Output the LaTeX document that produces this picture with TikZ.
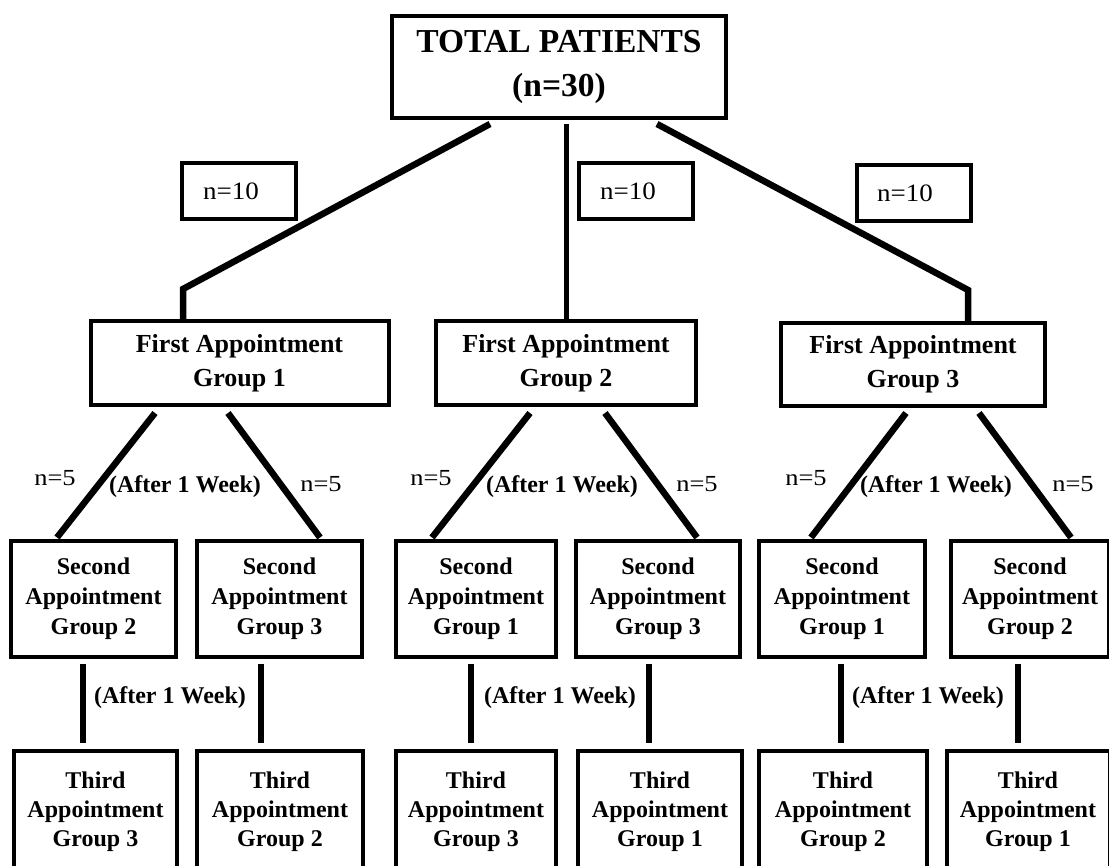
\documentclass[tikz,border=0pt]{standalone}
\usepackage{fontspec}
\setmainfont{Liberation Serif}
\usetikzlibrary{calc}
\begin{document}
\begin{tikzpicture}[x=1pt,y=-1pt,
  box/.style={draw,line width=4pt,inner sep=0pt,align=center,font=\bfseries},
  topbox/.style={box,font=\fontsize{33.5}{44}\selectfont\bfseries},
  firstbox/.style={box,font=\fontsize{26}{34}\selectfont\bfseries},
  secbox/.style={box,minimum height=116pt,font=\fontsize{24}{30}\selectfont\bfseries},
  thirdbox/.style={box,minimum height=122pt,font=\fontsize{24}{29}\selectfont\bfseries},
  nbox/.style={draw,line width=4pt,inner sep=0pt,minimum width=114pt,minimum height=56pt,font=\fontsize{25}{28}\selectfont},
  nlab/.style={inner sep=0pt,font=\fontsize{23}{26}\selectfont},
  wlab/.style={inner sep=0pt,font=\fontsize{24}{26}\selectfont\bfseries},
  conn/.style={line width=6.5pt}]
\useasboundingbox (0,0) rectangle (1109,866);
\fill[white] (0,0) rectangle (1109,866);

% top
\node[topbox,minimum width=334pt,minimum height=102pt] (top) at (559,67) {TOTAL PATIENTS\\(n=30)};

% n=10 boxes
\node[nbox] (n10a) at (239,191.5) {\scalebox{1.08}[1]{n=10}\kern16pt};
\node[nbox] (n10b) at (636,191.5) {\scalebox{1.08}[1]{n=10}\kern16pt};
\node[nbox] (n10c) at (914,193) {\scalebox{1.08}[1]{n=10}\kern18pt};

% first appointment
\node[firstbox,minimum width=298pt,minimum height=84pt] (fa1) at (239.5,363) {First Appointment\\Group 1};
\node[firstbox,minimum width=260pt,minimum height=84pt] (fa2) at (566,363) {First Appointment\\Group 2};
\node[firstbox,minimum width=264pt,minimum height=83pt] (fa3) at (913,364.5) {First Appointment\\Group 3};

% second appointment
\node[secbox,minimum width=165pt] (sa1) at (93.5,598.5) {Second\\Appointment\\Group 2};
\node[secbox,minimum width=165pt] (sa2) at (279.5,598.5) {Second\\Appointment\\Group 3};
\node[secbox,minimum width=160pt] (sa3) at (476,598.5) {Second\\Appointment\\Group 1};
\node[secbox,minimum width=164pt] (sa4) at (658,598.5) {Second\\Appointment\\Group 3};
\node[secbox,minimum width=166pt] (sa5) at (842,598.5) {Second\\Appointment\\Group 1};
\node[secbox,minimum width=158pt] (sa6) at (1030,598.5) {Second\\Appointment\\Group 2};

% third appointment
\node[thirdbox,minimum width=163pt] (ta1) at (95.5,812) {Third\\Appointment\\Group 3};
\node[thirdbox,minimum width=166pt] (ta2) at (280,812) {Third\\Appointment\\Group 2};
\node[thirdbox,minimum width=160pt] (ta3) at (476,812) {Third\\Appointment\\Group 3};
\node[thirdbox,minimum width=164pt] (ta4) at (660,812) {Third\\Appointment\\Group 1};
\node[thirdbox,minimum width=168pt] (ta5) at (843,812) {Third\\Appointment\\Group 2};
\node[thirdbox,minimum width=163pt] (ta6) at (1028,812) {Third\\Appointment\\Group 1};

% connectors from top
\draw[conn] ([xshift=-69pt,yshift=-4pt]top.south) -- ([xshift=-56.5pt,yshift=30pt]fa1.north) -- ([xshift=-56.5pt,yshift=-1pt]fa1.north);
\draw[conn,line width=5pt] ([xshift=7pt,yshift=-4pt]top.south) -- ([yshift=-1pt]fa2.north);
\draw[conn] ([xshift=98pt,yshift=-4pt]top.south) -- ([xshift=55pt,yshift=31pt]fa3.north) -- ([xshift=55pt,yshift=-1pt]fa3.north);

% first -> second
\draw[conn] ([xshift=-84.5pt,yshift=-6pt]fa1.south) -- ([xshift=-36.5pt,yshift=1pt]sa1.north);
\draw[conn] ([xshift=-11.5pt,yshift=-6pt]fa1.south) -- ([xshift=40.5pt,yshift=1pt]sa2.north);
\draw[conn] ([xshift=-36pt,yshift=-6pt]fa2.south) -- ([xshift=-44pt,yshift=1pt]sa3.north);
\draw[conn] ([xshift=39pt,yshift=-6pt]fa2.south) -- ([xshift=39pt,yshift=1pt]sa4.north);
\draw[conn] ([xshift=-7pt,yshift=-5pt]fa3.south) -- ([xshift=-31pt,yshift=1pt]sa5.north);
\draw[conn] ([xshift=66pt,yshift=-5pt]fa3.south) -- ([xshift=41pt,yshift=1pt]sa6.north);

% second -> third
\draw[conn] ([xshift=-10.5pt,yshift=-5pt]sa1.south) -- ([xshift=-12.5pt,yshift=6pt]ta1.north);
\draw[conn] ([xshift=-18.5pt,yshift=-5pt]sa2.south) -- ([xshift=-19pt,yshift=6pt]ta2.north);
\draw[conn] ([xshift=-5pt,yshift=-5pt]sa3.south) -- ([xshift=-5pt,yshift=6pt]ta3.north);
\draw[conn] ([xshift=-9pt,yshift=-5pt]sa4.south) -- ([xshift=-11pt,yshift=6pt]ta4.north);
\draw[conn] ([xshift=-1pt,yshift=-5pt]sa5.south) -- ([xshift=-2pt,yshift=6pt]ta5.north);
\draw[conn] ([xshift=-12pt,yshift=-5pt]sa6.south) -- ([xshift=-10pt,yshift=6pt]ta6.north);

% labels
\node[nlab] (l1) at (55,478) {\scalebox{1.15}[1]{n=5}};
\node[nlab] (l2) at (321,484) {\scalebox{1.15}[1]{n=5}};
\node[nlab] (l3) at (431,478) {\scalebox{1.15}[1]{n=5}};
\node[nlab] (l4) at (697,484) {\scalebox{1.15}[1]{n=5}};
\node[nlab] (l5) at (806,478) {\scalebox{1.15}[1]{n=5}};
\node[nlab] (l6) at (1073,484) {\scalebox{1.15}[1]{n=5}};

\node[wlab] (w1) at (185,487) {(After 1 Week)};
\node[wlab] (w2) at (562,487) {(After 1 Week)};
\node[wlab] (w3) at (936,487) {(After 1 Week)};
\node[wlab] (w4) at (170,698) {(After 1 Week)};
\node[wlab] (w5) at (560,698) {(After 1 Week)};
\node[wlab] (w6) at (928,698) {(After 1 Week)};
\end{tikzpicture}
\end{document}
